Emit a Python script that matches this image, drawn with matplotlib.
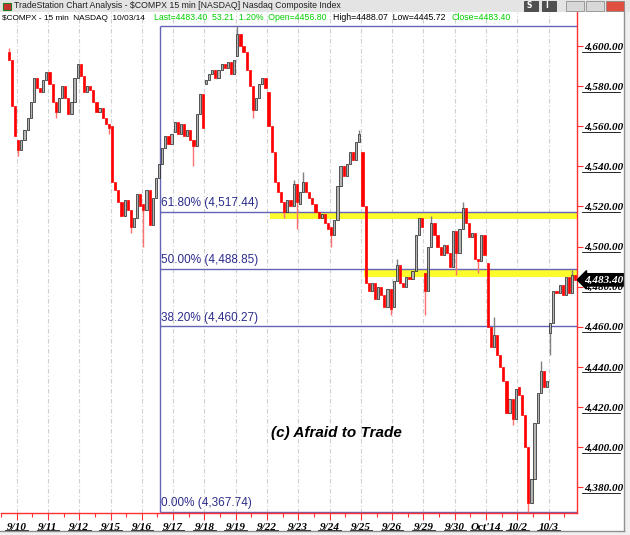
import matplotlib
matplotlib.use("Agg")
import matplotlib.pyplot as plt
import matplotlib.transforms as mtransforms
from matplotlib.patches import Rectangle

# 15-min bars, thinned to 10 bars per session; each list holds the closes,
# the first bar of a session opens at day_open, later bars at previous close
d0909 = [4593, 4570, 4555]
d0910 = [4548, 4553, 4558, 4564, 4572, 4584, 4579, 4577, 4583, 4587]
d0911 = [4581, 4572, 4567, 4574, 4580, 4574, 4566, 4572, 4584, 4591]
d0912 = [4585, 4577, 4580, 4578, 4572, 4567, 4569, 4564, 4561, 4559]
d0915 = [4532, 4528, 4522, 4515, 4523, 4518, 4510, 4514, 4526, 4520]
d0916 = [4518, 4528, 4511, 4524, 4534, 4541, 4549, 4555, 4551, 4556]
d0917 = [4562, 4556, 4561, 4555, 4558, 4553, 4550, 4566, 4576, 4559]
d0918 = [4583, 4586, 4588, 4584, 4588, 4591, 4589, 4592, 4586, 4593]
d0919 = [4606, 4600, 4597, 4588, 4580, 4568, 4574, 4581, 4584, 4579]
d0922 = [4560, 4547, 4532, 4527, 4522, 4517, 4523, 4520, 4531, 4522]
d0923 = [4527, 4532, 4527, 4524, 4521, 4517, 4514, 4516, 4512, 4509]
d0924 = [4506, 4513, 4530, 4540, 4535, 4541, 4547, 4543, 4552, 4556]
d0925 = [4520, 4482, 4478, 4482, 4474, 4480, 4476, 4470, 4479, 4469]
d0926 = [4483, 4491, 4482, 4480, 4485, 4484, 4488, 4506, 4514, 4510]
d0929 = [4478, 4500, 4512, 4506, 4500, 4496, 4501, 4497, 4490, 4508]
d0930 = [4497, 4509, 4519, 4512, 4505, 4507, 4494, 4493, 4506, 4496]
d1001 = [4460, 4450, 4456, 4446, 4440, 4433, 4417, 4424, 4414, 4429]
d1002 = [4426, 4416, 4400, 4372, 4384, 4412, 4427, 4438, 4430, 4433]
d1003 = [4462, 4478, 4477, 4481, 4476, 4485, 4477, 4486, 4483.40]

session_names = ["9/9", "9/10", "9/11", "9/12", "9/15", "9/16", "9/17", "9/18", "9/19",
                 "9/22", "9/23", "9/24", "9/25", "9/26", "9/29", "9/30", "10/1", "10/2", "10/3"]
sessions = [d0909, d0910, d0911, d0912, d0915, d0916, d0917, d0918, d0919,
            d0922, d0923, d0924, d0925, d0926, d0929, d0930, d1001, d1002, d1003]
day_open = [4597, 4553, 4587, 4591, 4560, 4521, 4557, 4581, 4595,
            4577, 4521, 4510, 4547, 4470, 4487, 4508, 4492, 4430, 4456.80]

# (session, bar, wick tip) for the longer wicks
wicks = [("9/9", 0, 4599), ("9/10", 0, 4545), ("9/11", 2, 4564), ("9/12", 9, 4556),
         ("9/15", 6, 4507), ("9/16", 0, 4500), ("9/17", 6, 4540),
         ("9/19", 0, 4609.97), ("9/19", 5, 4564),
         ("9/22", 5, 4514), ("9/22", 8, 4533), ("9/22", 9, 4509),
         ("9/23", 1, 4537), ("9/24", 0, 4500), ("9/24", 9, 4558),
         ("9/25", 9, 4466), ("9/26", 1, 4494), ("9/29", 0, 4466), ("9/29", 2, 4515),
         ("9/30", 0, 4486), ("9/30", 2, 4522), ("9/30", 7, 4487),
         ("10/1", 2, 4465), ("10/1", 8, 4411), ("10/2", 3, 4367.74), ("10/2", 7, 4443),
         ("10/3", 0, 4445.72), ("10/3", 7, 4488.07)]

date_labels = ["9/10", "9/11", "9/12", "9/15", "9/16", "9/17", "9/18", "9/19", "9/22",
               "9/23", "9/24", "9/25", "9/26", "9/29", "9/30", "Oct'14", "10/2", "10/3"]
price_ticks = [4380, 4400, 4420, 4440, 4460, 4480, 4500, 4520, 4540, 4560, 4580, 4600]

fib_low = 4367.74
fib_high = 4609.97
fib_ratios = [0.0, 0.382, 0.5, 0.618, 1.0]
fib_start = 4.57          # drawn from mid 9/16
zone_618 = (8.1, 4513.6)  # yellow zone under 61.8%
zone_500 = (11.1, 4484.6) # yellow zone under 50%

last_price = 4483.40

W, H = 630, 535
fig = plt.figure(figsize=(W / 100, H / 100), dpi=100)
fig.patch.set_facecolor("white")

ax = fig.add_axes([1 / W, 1 - 513 / H, 576 / W, 501 / H])
x0, x1 = -0.381, 17.905
ax.set_xlim(x0, x1)
ax.set_ylim(4367.1, 4617.0)

for i in range(len(date_labels)):
    ax.axvline(i, color="#cfcfcf", lw=0.8, ls=(0, (4, 2, 1, 2)), zorder=0)

yellow = "#fcfc2c"
ax.add_patch(Rectangle(zone_618, x1 + 1 - zone_618[0], fib_low + 0.618 * (fib_high - fib_low) - zone_618[1],
                       facecolor=yellow, edgecolor="none", zorder=1))
ax.add_patch(Rectangle(zone_500, x1 + 1 - zone_500[0], fib_low + 0.5 * (fib_high - fib_low) - zone_500[1],
                       facecolor=yellow, edgecolor="none", zorder=1))

fibc = "#6464b4"
ax.vlines(fib_start, fib_low, fib_high, color=fibc, lw=1.0, zorder=2)
for r in fib_ratios:
    lv = fib_low + r * (fib_high - fib_low)
    ax.hlines(lv, fib_start, x1 + 1, color=fibc, lw=1.0, zorder=2)
    if r < 1.0:
        ax.text(fib_start + 0.03, lv + 1.3, "{:.2f}% ({:,.2f})".format(r * 100, lv),
                color="#2c2c8c", fontsize=8.5, family="Liberation Sans",
                va="bottom", ha="left", zorder=2)

# candles
xs, op, cl = [], [], []
starts = {}
for s, (closes, o) in enumerate(zip(sessions, day_open)):
    day = s - 1
    first = 7 if s == 0 else 0
    starts[session_names[s]] = len(xs)
    for k, c in enumerate(closes):
        xs.append(day + (first + k + 0.5) * 0.1)
        op.append(o)
        cl.append(c)
        o = c

up = [i for i in range(len(xs)) if cl[i] >= op[i]]
dn = [i for i in range(len(xs)) if cl[i] < op[i]]
bw = 0.07
ax.bar([xs[i] for i in up], [max(cl[i] - op[i], 0.5) for i in up], bottom=[op[i] for i in up],
       width=bw, color="#b4b4b4", edgecolor="#1a1a1a", lw=0.5, zorder=3)
ax.bar([xs[i] for i in dn], [cl[i] - op[i] for i in dn], bottom=[op[i] for i in dn],
       width=bw, color="#ff0000", edgecolor="#ff0000", lw=0.5, zorder=3)

for name, k, tip in wicks:
    i = starts[name] + k
    top, bot = max(op[i], cl[i]), min(op[i], cl[i])
    c = "#808080" if cl[i] >= op[i] else "#ff7070"
    if tip > top:
        ax.vlines(xs[i], top, tip, color=c, lw=1.0, zorder=2.5)
    else:
        ax.vlines(xs[i], tip, bot, color=c, lw=1.0, zorder=2.5)

ax.text(0.5816, 0.16, "(c) Afraid to Trade", transform=ax.transAxes, fontsize=11,
        family="Liberation Sans", weight="bold", style="italic", ha="center", va="center")

# axes styling
for sp in ["top", "left"]:
    ax.spines[sp].set_visible(False)
for sp in ["right", "bottom"]:
    ax.spines[sp].set_color("#ff3030")
    ax.spines[sp].set_linewidth(1.0)

ax.yaxis.tick_right()
ax.set_yticks(price_ticks)
ax.set_yticklabels(["{:,.2f}".format(v) for v in price_ticks])
ax.tick_params(axis="y", direction="out", length=4, width=0.8, color="#ff3030", pad=1)
for lab in ax.get_yticklabels():
    lab.set_fontfamily("Liberation Serif")
    lab.set_fontweight("bold")
    lab.set_fontstyle("italic")
    lab.set_fontsize(8)

ax.set_xticks(range(len(date_labels)))
ax.set_xticklabels(date_labels)
ax.set_xticks([i + 0.5 for i in range(-1, len(date_labels))], minor=True)
ax.tick_params(axis="x", which="major", direction="out", length=5, width=0.8, color="#ff3030", pad=2)
ax.tick_params(axis="x", which="minor", direction="out", length=3, width=0.8, color="#ff3030")
for lab in ax.get_xticklabels():
    lab.set_fontfamily("Liberation Serif")
    lab.set_fontweight("bold")
    lab.set_fontstyle("italic")
    lab.set_fontsize(8)

# underline the axis labels
ty = mtransforms.blended_transform_factory(ax.transAxes, ax.transData)
for v in price_ticks:
    ax.plot([1.008, 1.075], [v - 2.8, v - 2.8], transform=ty, color="black", lw=0.6, clip_on=False)
tx = mtransforms.blended_transform_factory(ax.transData, ax.transAxes)
for i, lab in enumerate(date_labels):
    hw = 0.36 if len(lab) < 5 else 0.5
    ax.plot([i - hw, i + hw], [-0.034, -0.034], transform=tx, color="black", lw=0.6, clip_on=False)

ax.annotate("{:,.2f}".format(last_price), xy=(1.0, last_price), xycoords=ty,
            xytext=(1.012, last_price), textcoords=ty, color="white", fontsize=8,
            family="Liberation Serif", weight="bold", style="italic", va="center", ha="left",
            bbox=dict(boxstyle="larrow,pad=0.15", fc="black", ec="black"), zorder=6)

# window chrome
fig.patches.append(Rectangle((0, 1 - 12 / H), 1, 12 / H, transform=fig.transFigure,
                             facecolor="#e4e4e4", edgecolor="none"))
fig.patches.append(Rectangle((624 / W, 0), 6 / W, 1 - 12 / H, transform=fig.transFigure,
                             facecolor="#f0f0f0", edgecolor="none"))
fig.patches.append(Rectangle((0, 0), 624 / W, 4 / H, transform=fig.transFigure,
                             facecolor="#f0f0f0", edgecolor="none"))
fig.add_artist(plt.Line2D([624 / W, 624 / W], [4 / H, 1 - 12 / H], transform=fig.transFigure,
                          color="#909090", lw=1))
fig.add_artist(plt.Line2D([0, 624 / W], [4 / H, 4 / H], transform=fig.transFigure,
                          color="#909090", lw=1))
fig.text(14 / W, 1 - 6 / H, "TradeStation Chart Analysis - $COMPX 15 min [NASDAQ] Nasdaq Composite Index",
         fontsize=6.3, family="Liberation Sans", color="#202020", va="center")
fig.patches.append(Rectangle((3 / W, 1 - 10 / H), 8 / W, 7 / H, transform=fig.transFigure,
                             facecolor="#c83030", edgecolor="#208020", lw=0.8))
for bx, lab in [(524, "S"), (542, "I")]:
    fig.patches.append(Rectangle((bx / W, 1 - 11 / H), 14 / W, 10 / H, transform=fig.transFigure,
                                 facecolor="#505050", edgecolor="#303030", lw=0.5))
    fig.text((bx + 5) / W, 1 - 6 / H, lab, fontsize=5.5, color="white", weight="bold",
             va="center", ha="center")
for bx, c in [(566, "#d8d8d8"), (586, "#d8d8d8"), (606, "#e05040")]:
    fig.patches.append(Rectangle((bx / W, 1 - 11 / H), 18 / W, 10 / H, transform=fig.transFigure,
                                 facecolor=c, edgecolor="#808080", lw=0.5))

# header line
hy = 1 - 18 / H
hdr = [(2, "$COMPX - 15 min  NASDAQ  10/03/14", "black", 5.95),
       (154, "Last=4483.40  53.21  1.20%  Open=4456.80", "#00d000", 6.3),
       (333, "High=4488.07  Low=4445.72", "black", 6.3),
       (451, "Close=4483.40", "#00d000", 6.3)]
for px, s, c, fs in hdr:
    fig.text(px / W, hy, s, fontsize=fs, family="Liberation Sans", color=c, va="center")

fig.savefig("out.png", dpi=100)
